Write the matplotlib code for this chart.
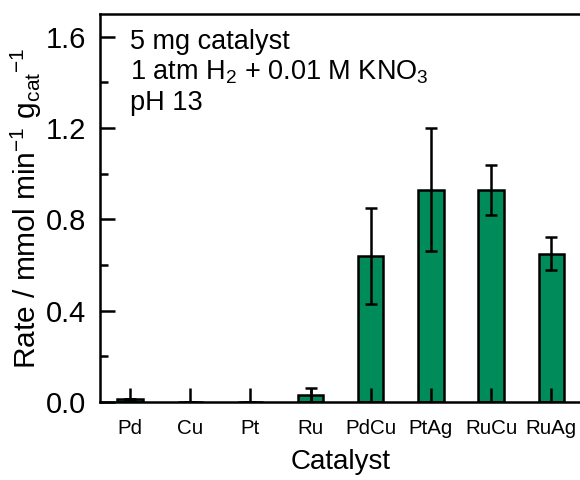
import matplotlib.pyplot as plt
import matplotlib
from matplotlib.ticker import MultipleLocator

matplotlib.rcParams['font.family'] = 'Liberation Sans'
matplotlib.rcParams['mathtext.fontset'] = 'custom'
matplotlib.rcParams['mathtext.rm'] = 'Liberation Sans'
matplotlib.rcParams['mathtext.it'] = 'Liberation Sans:italic'

catalysts = ['Pd', 'Cu', 'Pt', 'Ru', 'PdCu', 'PtAg', 'RuCu', 'RuAg']
rates = [0.012, 0.0, 0.0, 0.032, 0.64, 0.93, 0.927, 0.65]
errors = [0.0, 0.0, 0.0, 0.03, 0.21, 0.27, 0.11, 0.073]

fig = plt.figure(figsize=(5.8, 4.8), dpi=100)
ax = fig.add_axes([0.1724, 0.1625, 0.83, 0.8085])

x = range(len(catalysts))
ax.bar(x, rates, width=0.42, color='#008C5A', edgecolor='black', linewidth=1.8,
       yerr=errors, error_kw=dict(ecolor='black', elinewidth=1.8, capsize=4.5, capthick=1.8))

ax.set_xlim(-0.5, 7.5)
ax.set_ylim(0, 1.70)
ax.set_xticks(list(x))
ax.set_xticklabels(catalysts, fontsize=14.8)
ax.tick_params(axis='x', direction='in', length=10, width=1.8, pad=12)
ax.yaxis.set_major_locator(MultipleLocator(0.4))
ax.yaxis.set_minor_locator(MultipleLocator(0.2))
ax.yaxis.set_major_formatter(matplotlib.ticker.FormatStrFormatter('%.1f'))
ax.tick_params(axis='y', which='major', direction='in', length=11, width=1.8, labelsize=21, pad=10)
ax.tick_params(axis='y', which='minor', direction='in', length=6, width=1.8)
for s in ['left', 'bottom', 'top']:
    ax.spines[s].set_linewidth(1.8)
ax.spines['right'].set_visible(False)

ax.set_xlabel('Catalyst', fontsize=20, labelpad=8)
ax.set_ylabel(r'Rate / mmol min$^{-1}$ g$_{\mathrm{cat}}$$^{-1}$', fontsize=21.5, labelpad=1)

ax.text(0.063, 0.962, '5 mg catalyst\n' + r'1 atm H$_2$ + 0.01 M KNO$_3$' + '\npH 13',
        transform=ax.transAxes, fontsize=19.5, va='top', ha='left', linespacing=1.2)

plt.savefig('out.png', dpi=100)
plt.close()
